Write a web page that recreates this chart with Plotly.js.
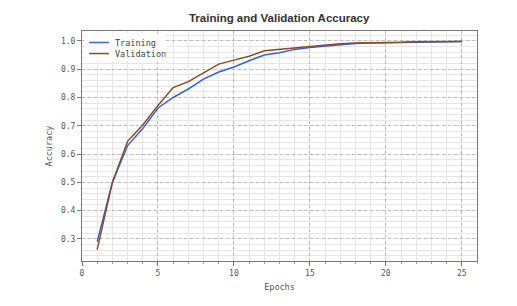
<!DOCTYPE html>
<html><head><meta charset="utf-8">
<script src="https://cdn.plot.ly/plotly-3.0.1.min.js"></script>
<style>html,body{margin:0;padding:0;background:#fff}</style>
</head><body>
<div id="chart" style="width:517px;height:306px"></div>
<script>
const epochs = [1,2,3,4,5,6,7,8,9,10,11,12,13,14,15,16,17,18,19,20,21,22,23,24,25];
const trainingAcc = [0.290,0.500,0.630,0.690,0.763,0.800,0.830,0.865,0.890,0.908,0.930,0.950,0.958,0.970,0.977,0.982,0.987,0.991,0.993,0.994,0.995,0.996,0.997,0.997,0.998];
const validationAcc = [0.262,0.500,0.645,0.703,0.772,0.835,0.856,0.886,0.918,0.932,0.946,0.965,0.970,0.975,0.981,0.986,0.990,0.993,0.993,0.994,0.995,0.997,0.997,0.998,0.998];
const seriesNames = ["Training","Validation"];
const seriesColors = ["#3563d3","#8b4a1f"];
const yTicks = [0.3,0.4,0.5,0.6,0.7,0.8,0.9,1.0];
const xTicks = [0,5,10,15,20,25];

const mono = "DejaVu Sans Mono, monospace";
const traces = [
  {x: epochs, y: trainingAcc, name: seriesNames[0], mode: "lines", line: {color: seriesColors[0], width: 1.5}},
  {x: epochs, y: validationAcc, name: seriesNames[1], mode: "lines", line: {color: seriesColors[1], width: 1.5}}
];
const axisCommon = {
  showline: true, linecolor: "#777", linewidth: 1, mirror: true,
  ticks: "outside", ticklen: 4, tickcolor: "#777",
  showgrid: true, gridcolor: "#bbb", griddash: "dot", gridwidth: 1,
  zeroline: false,
  tickfont: {family: mono, size: 8, color: "#555"}
};

// Legend drawn as a compact box (paper coordinates of the plot area)
const legendRowsY = [0.95, 0.902];
const shapes = [
  {type: "rect", xref: "paper", yref: "paper", x0: 0.006, x1: 0.213, y0: 0.868, y1: 0.99,
   fillcolor: "rgba(255,255,255,0.92)", line: {width: 0}, layer: "above"}
];
const annotations = [];
seriesNames.forEach((n, i) => {
  shapes.push({type: "line", xref: "paper", yref: "paper", x0: 0.018, x1: 0.068,
               y0: legendRowsY[i], y1: legendRowsY[i], line: {color: seriesColors[i], width: 1.5}, layer: "above"});
  annotations.push({xref: "paper", yref: "paper", x: 0.078, y: legendRowsY[i], xanchor: "left", yanchor: "middle",
                    text: n, showarrow: false, font: {family: mono, size: 8.5, color: "#444"}});
});

const layout = {
  width: 517, height: 306,
  margin: {l: 82, r: 40, t: 31, b: 45},
  paper_bgcolor: "#fff", plot_bgcolor: "#fff",
  title: {text: "<b>Training and Validation Accuracy</b>", x: 0.54, xanchor: "center", y: 0.94, yanchor: "middle",
          font: {family: "Liberation Sans, Arial, sans-serif", size: 11.5, color: "#333"}},
  xaxis: Object.assign({}, axisCommon, {
    range: [0, 26], tickvals: xTicks, ticktext: xTicks.map(String),
    minor: {dtick: 1, ticks: "outside", ticklen: 2, tickcolor: "#999", showgrid: true, gridcolor: "#e6e6e6", griddash: "solid", gridwidth: 1},
    title: {text: "Epochs", standoff: 7, font: {family: mono, size: 8.5, color: "#555"}}
  }),
  yaxis: Object.assign({}, axisCommon, {
    range: [0.222, 1.035], tickvals: yTicks, ticktext: yTicks.map(v => v.toFixed(1)),
    minor: {dtick: 0.02, tick0: 0, ticks: "", showgrid: true, gridcolor: "#e6e6e6", griddash: "solid", gridwidth: 1},
    title: {text: "Accuracy", standoff: 6, font: {family: mono, size: 8.5, color: "#555"}}
  }),
  showlegend: false,
  shapes: shapes,
  annotations: annotations
};
Plotly.newPlot("chart", traces, layout, {displayModeBar: false, staticPlot: true});
</script>
</body></html>
